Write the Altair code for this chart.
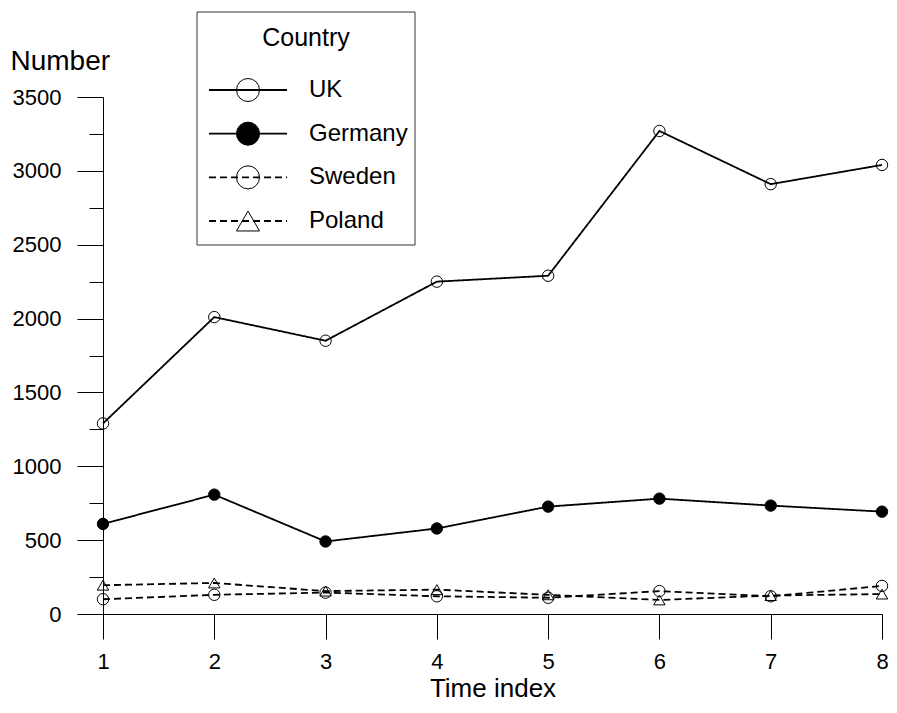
import altair as alt
import pandas as pd

# ---- data ----
countries = ["UK", "Germany", "Sweden", "Poland"]
time_index = [1, 2, 3, 4, 5, 6, 7, 8]
uk = [1290, 2010, 1850, 2250, 2290, 3270, 2910, 3040]
germany = [610, 808, 491, 579, 727, 781, 734, 693]
sweden = [100, 130, 145, 120, 110, 155, 120, 190]
poland = [195, 210, 155, 165, 130, 95, 125, 135]

y_ticks = list(range(0, 3501, 250))
x_ticks = time_index

series = {"UK": uk, "Germany": germany, "Sweden": sweden, "Poland": poland}
rows = []
for c in countries:
    for t, v in zip(time_index, series[c]):
        rows.append({"country": c, "time": t, "value": v})
df = pd.DataFrame(rows)
legend_df = pd.DataFrame({"country": countries})
one = pd.DataFrame({"k": [0]})

FONT = "Liberation Sans"

dash_scale = alt.Scale(domain=countries, range=[[1, 0], [1, 0], [7, 4], [7, 4]])
shape_scale = alt.Scale(domain=countries, range=["circle", "circle", "circle", "triangle-up"])
fill_scale = alt.Scale(domain=countries, range=["transparent", "black", "transparent", "transparent"])

x_enc = alt.X(
    "time:Q",
    scale=alt.Scale(domain=[1, 8], nice=False, zero=False),
    axis=alt.Axis(
        values=x_ticks, format="d", tickSize=25, labelPadding=12, labelFlush=False,
        labelFontSize=22, title="Time index", titleFontSize=26,
        titleFontWeight="normal", titlePadding=3,
        domainColor="black", tickColor="black", labelColor="black",
        titleColor="black", grid=False,
    ),
)
y_enc = alt.Y(
    "value:Q",
    scale=alt.Scale(domain=[0, 3500], nice=False),
    axis=alt.Axis(
        values=y_ticks,
        labelExpr="datum.value % 500 === 0 ? datum.label : ''",
        tickSize={"condition": {"test": "datum.value % 500 === 0", "value": 26}, "value": 14},
        labelPadding=16, labelFontSize=22, format="d", labelFlush=False,
        title="Number", titleAngle=0, titleAlign="left", titleBaseline="alphabetic",
        titleX=-93, titleY=-28, titleFontSize=28, titleFontWeight="normal",
        domainColor="black", tickColor="black", labelColor="black",
        titleColor="black", grid=False,
    ),
)

base = alt.Chart(df).encode(x=x_enc, y=y_enc)

lines = base.mark_line(color="black", strokeWidth=1.8).encode(
    detail="country:N",
    strokeDash=alt.StrokeDash("country:N", scale=dash_scale, legend=None),
)
points = base.mark_point(filled=True, size=130, stroke="black", strokeWidth=1, opacity=1).encode(
    shape=alt.Shape("country:N", scale=shape_scale, legend=None),
    fill=alt.Fill("country:N", scale=fill_scale, legend=None),
)

# ---- hand-drawn legend ----
leg_y = alt.Y("country:N", scale=alt.Scale(type="point", domain=countries, range=[-7, 124], padding=0), axis=None)

leg_box = alt.Chart(one).mark_rect(fillOpacity=0, stroke="#333333", strokeWidth=1).encode(
    x=alt.value(94), x2=alt.value(312), y=alt.value(-85), y2=alt.value(148)
)
leg_title = alt.Chart(one).mark_text(text="Country", font=FONT, fontSize=25, align="center", baseline="middle", color="black").encode(
    x=alt.value(203), y=alt.value(-59)
)
leg_lines = alt.Chart(legend_df).mark_rule(color="black", strokeWidth=1.8).encode(
    y=leg_y, x=alt.value(106), x2=alt.value(184),
    strokeDash=alt.StrokeDash("country:N", scale=dash_scale, legend=None),
)
leg_pts = alt.Chart(legend_df).mark_point(filled=True, size=530, stroke="black", strokeWidth=1, opacity=1).encode(
    y=leg_y, x=alt.value(145),
    shape=alt.Shape("country:N", scale=shape_scale, legend=None),
    fill=alt.Fill("country:N", scale=fill_scale, legend=None),
)
leg_text = alt.Chart(legend_df).mark_text(font=FONT, fontSize=24, align="left", baseline="middle", color="black").encode(
    y=leg_y, x=alt.value(206), text="country:N"
)

main = alt.layer(lines, points)
legend = alt.layer(leg_box, leg_title, leg_lines, leg_pts, leg_text)

chart = alt.layer(main, legend).resolve_scale(y="independent").properties(
    width=779, height=517,
    autosize=alt.AutoSizeParams(type="none"),
    padding={"left": 95, "top": 89, "right": 7, "bottom": 91},
).configure(font=FONT).configure_view(stroke=None).configure_axis(
    labelFont=FONT, titleFont=FONT, domainWidth=1, tickWidth=1
)

chart.save("out.html", embed_options={"renderer": "svg", "actions": False})
